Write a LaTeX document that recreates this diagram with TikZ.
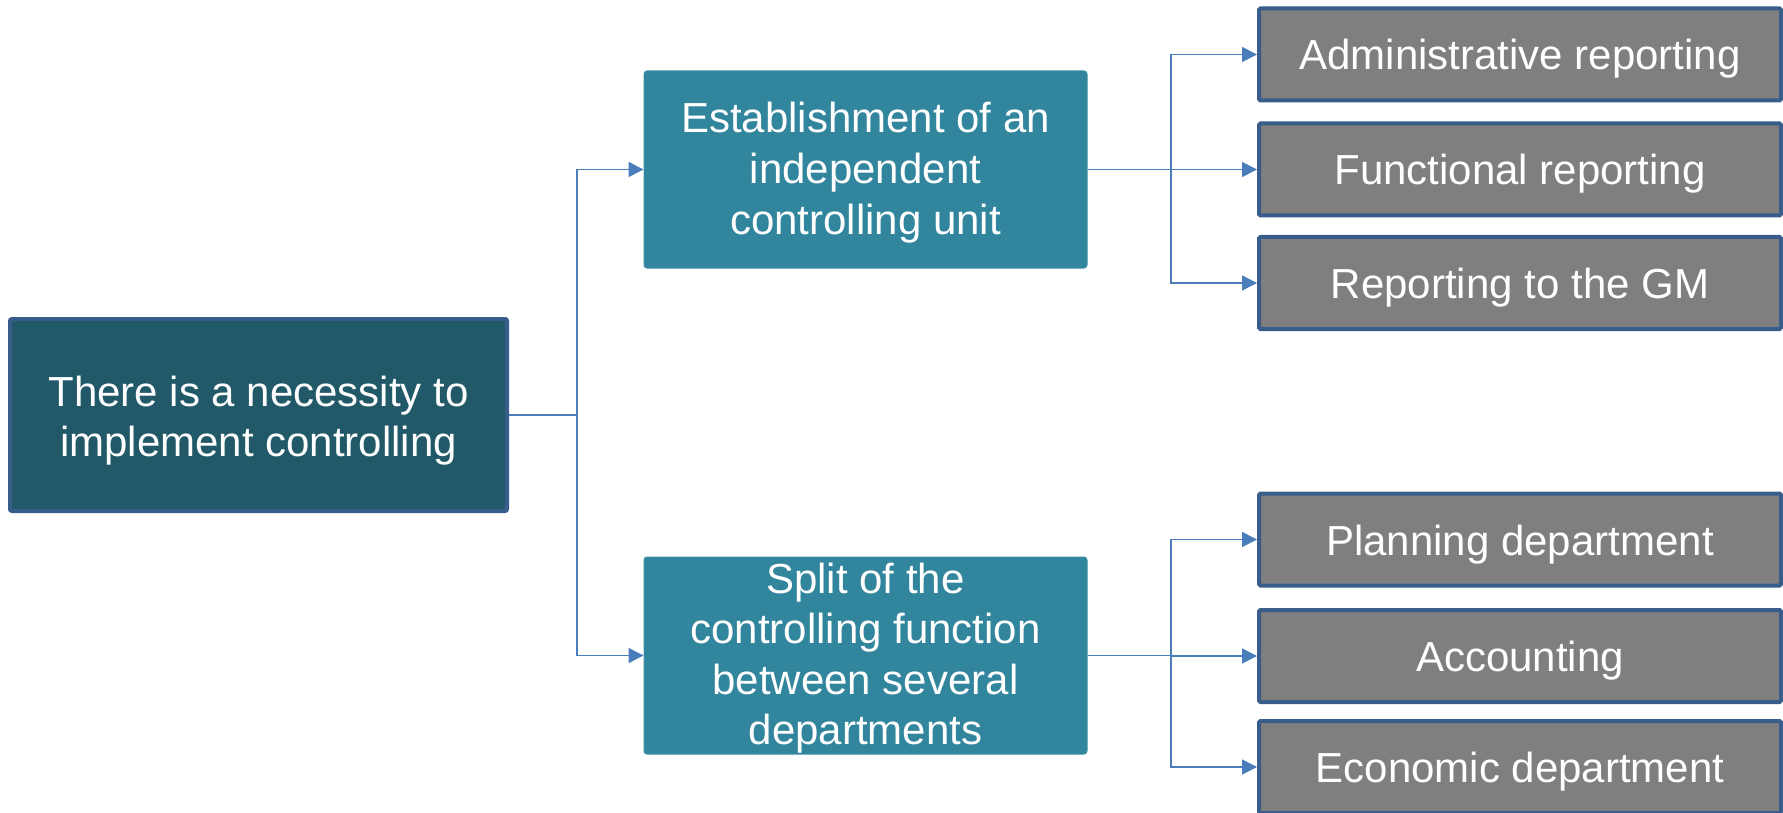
\documentclass[tikz,border=0pt]{standalone}
\usepackage{fontspec}
\setmainfont{Liberation Sans}
\usetikzlibrary{arrows.meta}
\definecolor{rootfill}{HTML}{215968}
\definecolor{midfill}{HTML}{31859C}
\definecolor{midline}{HTML}{3E8FA5}
\definecolor{leaffill}{HTML}{7F7F7F}
\definecolor{boxline}{HTML}{385D8A}
\definecolor{connline}{HTML}{4A7EBB}
% strut that sets the height of a first text line
\newcommand\firststrut[1]{\rule{0pt}{#1}}
\tikzset{
  basebox/.style={rectangle, align=center, text=white, inner sep=0pt,
    font=\fontsize{42}{50.5}\selectfont,
    % fixed line metrics so one-line labels sit the same way in their boxes
    execute at begin node={\rule{0pt}{40pt}},
    execute at end node={\rule[-9pt]{0pt}{0pt}}},
  rootbox/.style={basebox, fill=rootfill, draw=boxline, line width=4pt,
    rounded corners=2pt, minimum width=497pt, minimum height=192pt},
  midbox/.style={basebox, fill=midfill, draw=midline, line width=1pt,
    rounded corners=3pt, minimum width=443pt, minimum height=197pt},
  leafbox/.style={basebox, fill=leaffill, draw=boxline, line width=4pt,
    rounded corners=1.5pt, minimum width=522pt, minimum height=92pt},
  conn/.style={draw=connline, line width=1.6pt},
  arr/.style={conn, -{Triangle[length=15pt, width=15pt]}}
}
\begin{document}
\begin{tikzpicture}[x=1pt, y=-1pt]
  \useasboundingbox (0,0) rectangle (1783,813);

  % main boxes
  \node[rootbox] (root) at (258.5,415)
    {\firststrut{41.5pt}There is a necessity to\\implement controlling};
  \node[midbox] (mid1) at (865.5,169.5)
    {\firststrut{37pt}Establishment of an\\independent\\controlling unit};
  \node[midbox] (mid2) at (865.5,655.5)
    {\firststrut{35.5pt}Split of the\\controlling function\\between several\\departments};

  % reporting lines
  \node[leafbox] (l1) at (1520,54.5) {Administrative reporting};
  \node[leafbox] (l2) at (1520,169.5) {Functional reporting};
  \node[leafbox] (l3) at (1520,283) {Reporting to the GM};

  % departments
  \node[leafbox] (l4) at (1520,539.5) {Planning department};
  \node[leafbox] (l5) at (1520,656) {Accounting};
  \node[leafbox] (l6) at (1520,767) {Economic department};

  % junction points
  \coordinate (j0) at (577,415);
  \coordinate (j1) at (1171,169.5);
  \coordinate (j2) at (1171,655.5);

  % connectors
  \draw[conn] (root.east) -- (j0);
  \draw[arr] (j0) |- (mid1.west);
  \draw[arr] (j0) |- (mid2.west);

  \draw[conn] (mid1.east) -- (j1);
  \draw[arr] (j1) |- (l1.west);
  \draw[arr] (j1) |- (l2.west);
  \draw[arr] (j1) |- (l3.west);

  \draw[conn] (mid2.east) -- (j2);
  \draw[arr] (j2) |- (l4.west);
  \draw[arr] (j2) |- (l5.west);
  \draw[arr] (j2) |- (l6.west);
\end{tikzpicture}
\end{document}
